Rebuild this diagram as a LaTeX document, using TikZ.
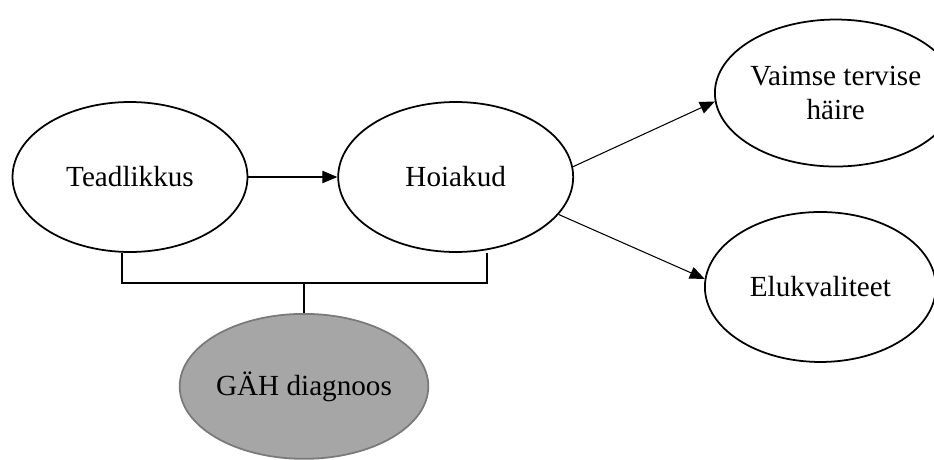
\documentclass[tikz,border=0pt]{standalone}
\usepackage{fontspec}
\setmainfont{Liberation Serif}
\usepackage{tikz}
\usetikzlibrary{arrows.meta,positioning,shapes.geometric,calc}
\definecolor{ink}{HTML}{000000}
\definecolor{paper}{HTML}{FFFFFF}
\definecolor{diag}{HTML}{A6A6A6}
\definecolor{diagrim}{HTML}{7A7A7A}
\tikzset{
  var/.style={draw=ink,ellipse,line width=1pt,fill=paper,inner sep=0pt,minimum width=4.7cm,minimum height=3cm,align=center,font=\fontsize{16.6}{19.5}\selectfont},
  fl/.style={-{Triangle[length=8.5pt,width=7pt]},line width=0.6pt},
  br/.style={line width=0.6pt}}

\begin{document}
\begin{tikzpicture}[x=0.02cm,y=-0.02cm]
\useasboundingbox (0,0) rectangle (934,460);

\node[var] (t) at (130,177) {Teadlikkus};
\node[var,right=1.78cm of t] (h) {Hoiakud};
\node[var,minimum width=4.62cm,minimum height=2.94cm,right=2.8cm of h.east,yshift=1.68cm] (v) {Vaimse tervise\\häire};
\node[var,minimum width=4.62cm,right=2.6cm of h.east,yshift=-2.2cm] (e) {Elukvaliteet};

\coordinate (bl) at (122,283);
\coordinate (bm) at (304,283);
\coordinate (bk) at (487,283);
\node[var,fill=diag,draw=diagrim,minimum height=2.9cm,below=0.6cm of bm] (g) {GÄH diagnoos};

\draw[fl] (t) -- (h);
\draw[fl] (h.5) -- (v.184);
\draw[fl] (h.-20) -- (e.176);

\draw[br] (bl |- t.south) -- (bl) -- (bk) -- (bk |- h.south);
\draw[br] (bm) -- (g.north);
\end{tikzpicture}
\end{document}
